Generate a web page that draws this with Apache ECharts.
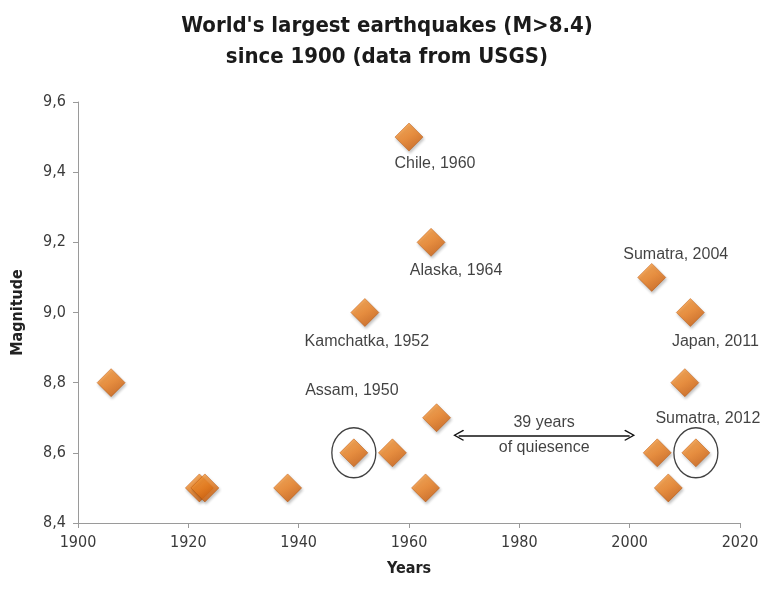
<!DOCTYPE html>
<html>
<head>
<meta charset="utf-8">
<script src="https://cdn.jsdelivr.net/npm/echarts@6/dist/echarts.min.js"></script>
<style>html,body{margin:0;padding:0;background:#fff}#c{width:774px;height:593px}</style>
</head>
<body>
<div id="c"></div>
<script>
// ---- data ----
const years = [1906, 1922, 1923, 1938, 1950, 1952, 1957, 1960, 1963, 1964, 1965, 2004, 2005, 2007, 2010, 2011, 2012];
const magnitudes = [8.8, 8.5, 8.5, 8.5, 8.6, 9.0, 8.6, 9.5, 8.5, 9.2, 8.7, 9.1, 8.6, 8.5, 8.8, 9.0, 8.6];
const names = ['', '', '', '', 'Assam, 1950', 'Kamchatka, 1952', '', 'Chile, 1960', '', 'Alaska, 1964', '', 'Sumatra, 2004', '', '', '', 'Japan, 2011', 'Sumatra, 2012'];
const circledYears = [1950, 2012];
const quiescence = { start: 1969, end: 2000, level: 8.65, text: '39 years\nof quiesence' };
const xTicks = { min: 1900, max: 2020, interval: 20 };
const yTicks = { min: 8.4, max: 9.6, interval: 0.2 };
const titleText = "World's largest earthquakes (M>8.4)\nsince 1900 (data from USGS)";

// ---- style (label offsets in px) ----
const labelOffsets = {
  'Chile, 1960': [26, 27],
  'Alaska, 1964': [25, 28],
  'Kamchatka, 1952': [2, 29],
  'Assam, 1950': [-2, -62],
  'Sumatra, 2004': [24, -23],
  'Japan, 2011': [25, 29],
  'Sumatra, 2012': [12, -34]
};

const narrow = '"DejaVu Sans Condensed", "Liberation Sans Narrow", sans-serif';
const labelFont = '"Liberation Sans", Arial, sans-serif';

const markerColor = {
  type: 'linear', x: 0.2, y: 0, x2: 0.8, y2: 1,
  colorStops: [
    { offset: 0, color: '#FAA040' },
    { offset: 0.5, color: '#EE7F1E' },
    { offset: 1, color: '#C65606' }
  ]
};

const pointData = years.map((y, i) => {
  const d = { value: [y, magnitudes[i]], name: names[i] };
  if (names[i]) {
    d.label = { show: true, position: 'inside', offset: labelOffsets[names[i]] || [0, 0] };
  }
  return d;
});

const circleData = circledYears.map(cy => {
  const i = years.indexOf(cy);
  return [years[i], magnitudes[i]];
});

const chevron = 'path://M0,0 L10,12 L8.4,13.4 L0,3.2 L-8.4,13.4 L-10,12 Z';

const chart = echarts.init(document.getElementById('c'), null, { renderer: 'canvas' });
chart.setOption({
  animation: false,
  backgroundColor: '#fff',
  title: {
    text: titleText,
    left: 'center',
    top: 6,
    textStyle: { fontFamily: narrow, fontWeight: 'bold', fontSize: 22, lineHeight: 31, color: '#1a1a1a' }
  },
  grid: { left: 78, right: 34, top: 102, bottom: 70 },
  xAxis: {
    type: 'value',
    min: xTicks.min, max: xTicks.max, interval: xTicks.interval,
    name: 'Years', nameLocation: 'middle', nameGap: 38,
    nameTextStyle: { fontFamily: narrow, fontWeight: 'bold', fontSize: 16, color: '#222' },
    axisLine: { lineStyle: { color: '#9a9a9a', width: 1 } },
    axisTick: { show: true, length: 5, lineStyle: { color: '#9a9a9a' } },
    axisLabel: { fontFamily: narrow, fontSize: 16, color: '#3a3a3a', margin: 12, formatter: v => String(v) },
    splitLine: { show: false }
  },
  yAxis: {
    type: 'value',
    min: yTicks.min, max: yTicks.max, interval: yTicks.interval,
    name: 'Magnitude', nameLocation: 'middle', nameGap: 52, nameRotate: 90,
    nameTextStyle: { fontFamily: narrow, fontWeight: 'bold', fontSize: 16, color: '#222' },
    axisLine: { show: true, lineStyle: { color: '#9a9a9a', width: 1 } },
    axisTick: { show: true, length: 5, lineStyle: { color: '#9a9a9a' } },
    axisLabel: {
      fontFamily: narrow, fontSize: 16, color: '#3a3a3a', margin: 12,
      formatter: v => v.toFixed(1).replace('.', ',')
    },
    splitLine: { show: false }
  },
  series: [
    {
      type: 'scatter',
      symbol: 'diamond',
      symbolSize: 28,
      z: 3,
      itemStyle: {
        color: markerColor,
        borderColor: '#B85005', borderWidth: 0.6,
        shadowColor: 'rgba(0,0,0,0.3)', shadowBlur: 3, shadowOffsetX: 1, shadowOffsetY: 2
      },
      emphasis: { disabled: true },
      label: {
        show: false,
        formatter: p => p.data.name,
        fontFamily: labelFont, fontSize: 16, color: '#111',
        align: 'center', verticalAlign: 'middle'
      },
      data: pointData,
      markLine: {
        silent: true,
        symbol: [chevron, chevron],
        symbolSize: [11, 11],
        lineStyle: { color: '#111', width: 1.5, type: 'solid' },
        label: { show: false },
        emphasis: { disabled: true },
        data: [[
          { coord: [quiescence.start, quiescence.level] },
          { coord: [quiescence.end, quiescence.level] }
        ]]
      }
    },
    {
      type: 'scatter',
      symbol: 'circle',
      symbolSize: [44, 50],
      z: 2,
      silent: true,
      itemStyle: { color: 'rgba(0,0,0,0)', borderColor: '#111', borderWidth: 1.4 },
      data: circleData
    },
    {
      type: 'scatter',
      symbolSize: 0,
      silent: true,
      label: {
        show: true, position: 'inside',
        formatter: quiescence.text,
        fontFamily: labelFont, fontSize: 16, color: '#111', lineHeight: 25,
        align: 'center', verticalAlign: 'middle'
      },
      data: [[(quiescence.start + quiescence.end) / 2, quiescence.level]]
    }
  ]
});
</script>
</body>
</html>
